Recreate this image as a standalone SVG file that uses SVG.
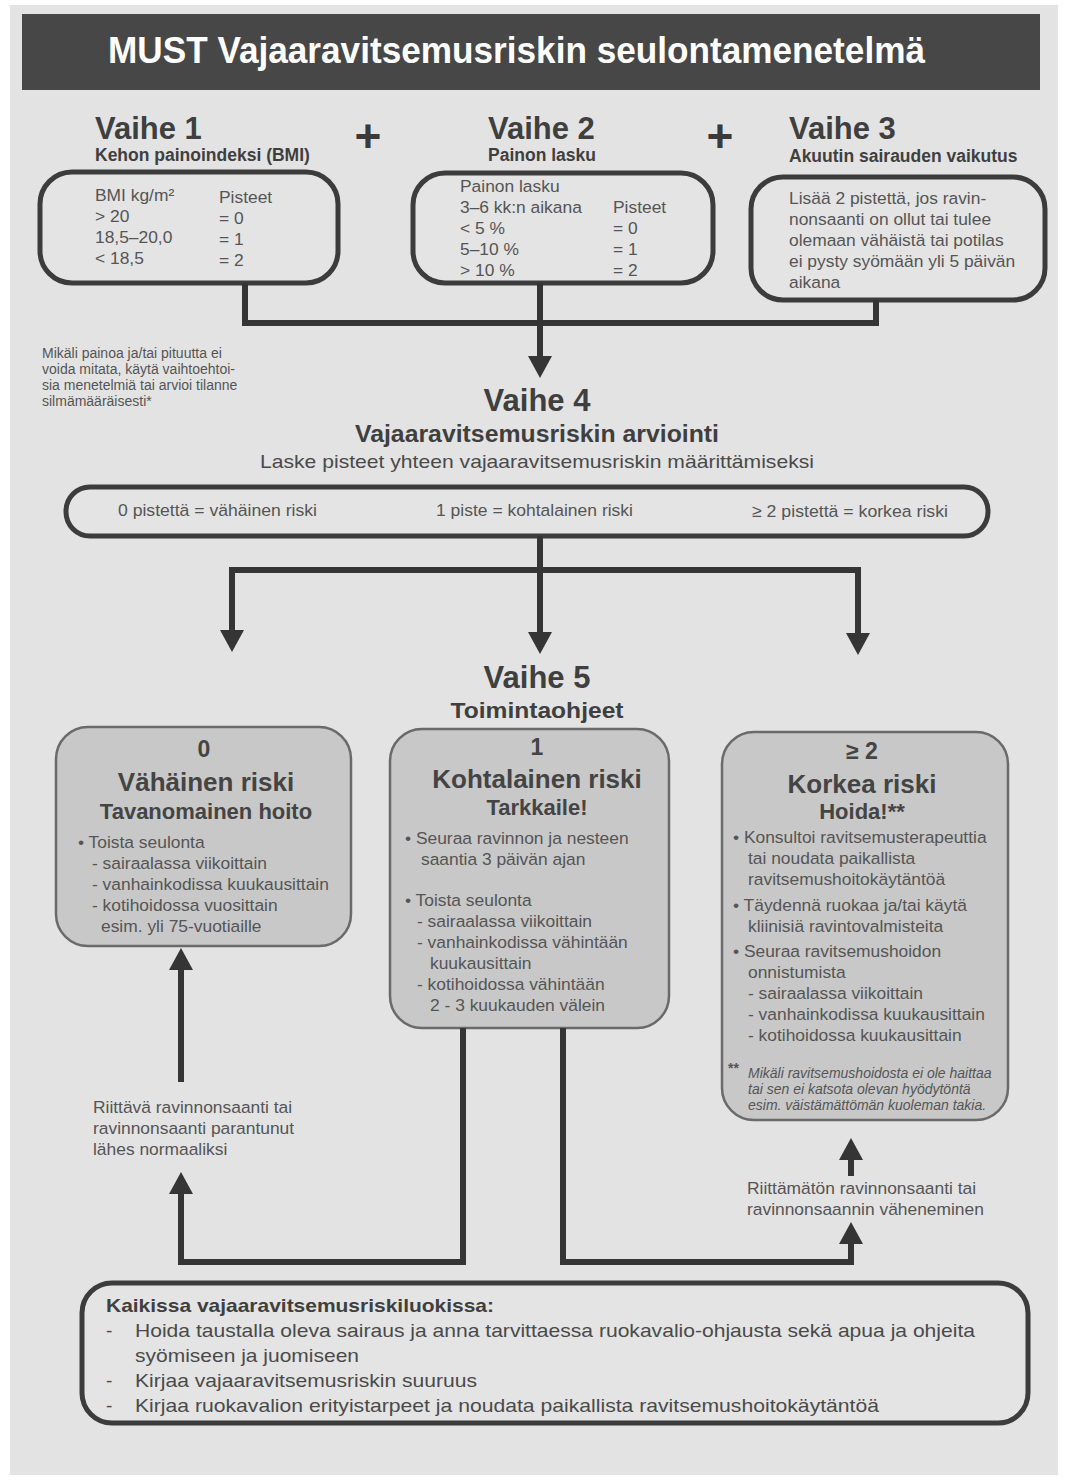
<svg xmlns="http://www.w3.org/2000/svg" width="1066" height="1481" viewBox="0 0 1066 1481">
<defs>
<style>
text{font-family:"Liberation Sans",Arial,sans-serif;fill:#4a4a4a}
.h1{font-size:31px;font-weight:bold;fill:#3f3f3f}
.h2{font-size:17.5px;font-weight:bold;fill:#3f3f3f}
.b{font-size:17.4px;fill:#555}
.s{font-size:14px;fill:#555}
.box{fill:#e4e4e4;stroke:#3c3c3c;stroke-width:5}
.rbox{fill:#c8c8c8;stroke:#6a6a6a;stroke-width:2.5}
.c{text-anchor:middle}
.rh0{font-size:23px;font-weight:bold;fill:#444}
.rh1{font-size:26px;font-weight:bold;fill:#444}
.rh2{font-size:22px;font-weight:bold;fill:#444}
.fn{font-size:14px;font-style:italic;fill:#555}
.line{fill:none;stroke:#353535;stroke-width:6}
.bb{font-size:19px;fill:#4a4a4a}
</style>
<marker id="ah" viewBox="0 -12 22 24" refX="0" refY="0" markerWidth="22" markerHeight="24" markerUnits="userSpaceOnUse" orient="auto">
<path d="M0,-12 L22,0 L0,12 z" fill="#353535"/>
</marker>
</defs>
<rect x="0" y="0" width="1066" height="1481" fill="#ffffff"/>
<rect x="10" y="5" width="1048" height="1470" fill="#e3e3e3"/>

<g id="title">
<rect x="22" y="14" width="1018" height="76" fill="#474747"/>
<text x="108" y="63" style="font-size:36px;font-weight:bold;fill:#ffffff" textLength="817" lengthAdjust="spacingAndGlyphs">MUST Vajaaravitsemusriskin seulontamenetelmä</text>
</g>

<g id="plus">
<text x="368" y="152" class="c" style="font-size:46px;font-weight:bold;fill:#3a3a3a">+</text>
<text x="720" y="152" class="c" style="font-size:46px;font-weight:bold;fill:#3a3a3a">+</text>
</g>

<g id="vaihe1">
<text x="95" y="139" class="h1">Vaihe 1</text>
<text x="95" y="161" class="h2">Kehon painoindeksi (BMI)</text>
<rect x="40" y="172" width="298" height="111" rx="32" class="box"/>
<text x="95" y="201" class="b">BMI kg/m²</text>
<text x="219" y="203" class="b">Pisteet</text>
<text x="95" y="222" class="b">&gt; 20</text><text x="219" y="224" class="b">= 0</text>
<text x="95" y="243" class="b">18,5–20,0</text><text x="219" y="245" class="b">= 1</text>
<text x="95" y="264" class="b">&lt; 18,5</text><text x="219" y="266" class="b">= 2</text>
</g>

<g id="vaihe2">
<text x="488" y="139" class="h1">Vaihe 2</text>
<text x="488" y="161" class="h2">Painon lasku</text>
<rect x="413" y="173" width="300" height="110" rx="32" class="box"/>
<text x="460" y="192" class="b">Painon lasku</text>
<text x="460" y="213" class="b">3–6 kk:n aikana</text><text x="613" y="213" class="b">Pisteet</text>
<text x="460" y="234" class="b">&lt; 5 %</text><text x="613" y="234" class="b">= 0</text>
<text x="460" y="255" class="b">5–10 %</text><text x="613" y="255" class="b">= 1</text>
<text x="460" y="276" class="b">&gt; 10 %</text><text x="613" y="276" class="b">= 2</text>
</g>

<g id="vaihe3">
<text x="789" y="139" class="h1">Vaihe 3</text>
<text x="789" y="162" class="h2">Akuutin sairauden vaikutus</text>
<rect x="751" y="177" width="294" height="123" rx="32" class="box"/>
<text x="789" y="204" class="b">Lisää 2 pistettä, jos ravin-</text>
<text x="789" y="225" class="b">nonsaanti on ollut tai tulee</text>
<text x="789" y="246" class="b">olemaan vähäistä tai potilas</text>
<text x="789" y="267" class="b">ei pysty syömään yli 5 päivän</text>
<text x="789" y="288" class="b">aikana</text>
</g>

<g id="note">
<text x="42" y="358" class="s">Mikäli painoa ja/tai pituutta ei</text>
<text x="42" y="374" class="s">voida mitata, käytä vaihtoehtoi-</text>
<text x="42" y="390" class="s">sia menetelmiä tai arvioi tilanne</text>
<text x="42" y="406" class="s">silmämääräisesti*</text>
</g>

<g id="vaihe4">
<text x="537" y="411" class="h1 c">Vaihe 4</text>
<text x="537" y="442" class="c" style="font-size:23px;font-weight:bold;fill:#3f3f3f" textLength="364" lengthAdjust="spacingAndGlyphs">Vajaaravitsemusriskin arviointi</text>
<text x="537" y="468" class="c" style="font-size:19px;fill:#4a4a4a" textLength="554" lengthAdjust="spacingAndGlyphs">Laske pisteet yhteen vajaaravitsemusriskin määrittämiseksi</text>
<rect x="66" y="487" width="922" height="49" rx="24" class="box"/>
<text x="118" y="516" class="b" textLength="199" lengthAdjust="spacingAndGlyphs">0 pistettä = vähäinen riski</text>
<text x="436" y="516" class="b" textLength="197" lengthAdjust="spacingAndGlyphs">1 piste = kohtalainen riski</text>
<text x="752" y="517" class="b" textLength="196" lengthAdjust="spacingAndGlyphs">≥ 2 pistettä = korkea riski</text>
</g>

<g id="vaihe5">
<text x="537" y="688" class="h1 c">Vaihe 5</text>
<text x="537" y="718" class="c" style="font-size:22px;font-weight:bold;fill:#3f3f3f" textLength="173" lengthAdjust="spacingAndGlyphs">Toimintaohjeet</text>
</g>

<g id="riski0">
<rect x="56" y="727" width="295" height="219" rx="32" class="rbox"/>
<text x="204" y="757" class="rh0 c">0</text>
<text x="206" y="791" class="rh1 c">Vähäinen riski</text>
<text x="206" y="819" class="rh2 c">Tavanomainen hoito</text>
<text x="78" y="848" class="b">• Toista seulonta</text>
<text x="92" y="869" class="b">- sairaalassa viikoittain</text>
<text x="92" y="890" class="b">- vanhainkodissa kuukausittain</text>
<text x="92" y="911" class="b">- kotihoidossa vuosittain</text>
<text x="101" y="932" class="b">esim. yli 75-vuotiaille</text>
</g>

<g id="riski1">
<rect x="390" y="729" width="279" height="299" rx="32" class="rbox"/>
<text x="537" y="755" class="rh0 c">1</text>
<text x="537" y="788" class="rh1 c">Kohtalainen riski</text>
<text x="537" y="815" class="rh2 c">Tarkkaile!</text>
<text x="405" y="844" class="b">• Seuraa ravinnon ja nesteen</text>
<text x="421" y="865" class="b">saantia 3 päivän ajan</text>
<text x="405" y="906" class="b">• Toista seulonta</text>
<text x="417" y="927" class="b">- sairaalassa viikoittain</text>
<text x="417" y="948" class="b">- vanhainkodissa vähintään</text>
<text x="430" y="969" class="b">kuukausittain</text>
<text x="417" y="990" class="b">- kotihoidossa vähintään</text>
<text x="430" y="1011" class="b">2 - 3 kuukauden välein</text>
</g>

<g id="riski2">
<rect x="722" y="732" width="286" height="388" rx="32" class="rbox"/>
<text x="862" y="759" class="rh0 c">≥ 2</text>
<text x="862" y="793" class="rh1 c">Korkea riski</text>
<text x="862" y="819" class="rh2 c">Hoida!**</text>
<text x="733" y="843" class="b">• Konsultoi ravitsemusterapeuttia</text>
<text x="748" y="864" class="b">tai noudata paikallista</text>
<text x="748" y="885" class="b">ravitsemushoitokäytäntöä</text>
<text x="733" y="911" class="b">• Täydennä ruokaa ja/tai käytä</text>
<text x="748" y="932" class="b">kliinisiä ravintovalmisteita</text>
<text x="733" y="957" class="b">• Seuraa ravitsemushoidon</text>
<text x="748" y="978" class="b">onnistumista</text>
<text x="748" y="999" class="b">- sairaalassa viikoittain</text>
<text x="748" y="1020" class="b">- vanhainkodissa kuukausittain</text>
<text x="748" y="1041" class="b">- kotihoidossa kuukausittain</text>
<text x="728" y="1073" class="fn" style="font-style:normal;font-weight:bold">**</text>
<text x="748" y="1078" class="fn">Mikäli ravitsemushoidosta ei ole haittaa</text>
<text x="748" y="1094" class="fn">tai sen ei katsota olevan hyödytöntä</text>
<text x="748" y="1110" class="fn">esim. väistämättömän kuoleman takia.</text>
</g>

<g id="label-riittava">
<text x="93" y="1113" class="b">Riittävä ravinnonsaanti tai</text>
<text x="93" y="1134" class="b">ravinnonsaanti parantunut</text>
<text x="93" y="1155" class="b">lähes normaaliksi</text>
</g>

<g id="label-riittamaton">
<text x="747" y="1194" class="b">Riittämätön ravinnonsaanti tai</text>
<text x="747" y="1215" class="b">ravinnonsaannin väheneminen</text>
</g>

<g id="kaikissa">
<rect x="82" y="1283" width="946" height="140" rx="30" class="box"/>
<text x="106" y="1312" style="font-size:19px;font-weight:bold;fill:#3f3f3f" textLength="388" lengthAdjust="spacingAndGlyphs">Kaikissa vajaaravitsemusriskiluokissa:</text>
<text x="106" y="1337" class="bb">-</text>
<text x="135" y="1337" class="bb" textLength="840" lengthAdjust="spacingAndGlyphs">Hoida taustalla oleva sairaus ja anna tarvittaessa ruokavalio-ohjausta sekä apua ja ohjeita</text>
<text x="135" y="1362" class="bb" textLength="224" lengthAdjust="spacingAndGlyphs">syömiseen ja juomiseen</text>
<text x="106" y="1387" class="bb">-</text>
<text x="135" y="1387" class="bb" textLength="342" lengthAdjust="spacingAndGlyphs">Kirjaa vajaaravitsemusriskin suuruus</text>
<text x="106" y="1412" class="bb">-</text>
<text x="135" y="1412" class="bb" textLength="744" lengthAdjust="spacingAndGlyphs">Kirjaa ruokavalion erityistarpeet ja noudata paikallista ravitsemushoitokäytäntöä</text>
</g>

<g id="connectors">
<path class="line" d="M245,283 V323 H876 V300"/>
<path class="line" d="M540,283 V356" marker-end="url(#ah)"/>
<path class="line" d="M540,536 V570"/>
<path class="line" d="M232,570 H858"/>
<path class="line" d="M232,567 V630" marker-end="url(#ah)"/>
<path class="line" d="M540,567 V632" marker-end="url(#ah)"/>
<path class="line" d="M858,567 V633" marker-end="url(#ah)"/>
<path class="line" d="M181,1082 V970" marker-end="url(#ah)"/>
<path class="line" d="M463,1028 V1262 H181 V1194" marker-end="url(#ah)"/>
<path class="line" d="M563,1028 V1262 H851 V1244" marker-end="url(#ah)"/>
<path class="line" d="M851,1176 V1160" marker-end="url(#ah)"/>
</g>
</svg>
